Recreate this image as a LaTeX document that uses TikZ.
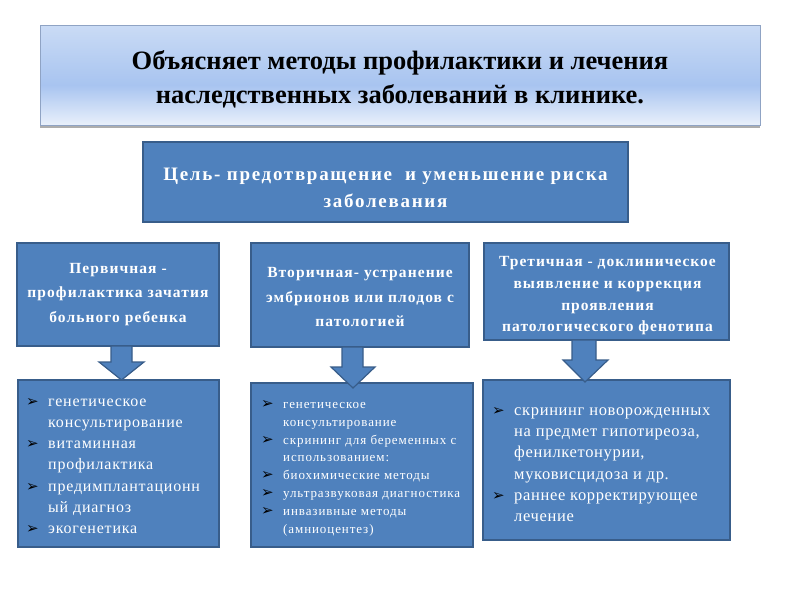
\documentclass[tikz,border=0pt]{standalone}
\usepackage{fontspec}
\setmainfont{Liberation Serif}
\newfontfamily\bul{DejaVu Sans}
\usetikzlibrary{shadows}
\definecolor{boxfill}{HTML}{4F81BD}
\definecolor{boxline}{HTML}{385D8A}
\definecolor{ttop}{HTML}{CADBF5}
\definecolor{tmid}{HTML}{A8C4F0}
\definecolor{tbot}{HTML}{E9F0FB}
\definecolor{tline}{HTML}{8FA3C4}
\pgfdeclareverticalshading{titleshade}{100bp}{color(0bp)=(tbot); color(25bp)=(tbot); color(45bp)=(tmid); color(75bp)=(ttop); color(100bp)=(ttop)}
\newcommand{\bl}{\makebox[22pt][l]{\bul\fontsize{15}{10}\selectfont\color{black}➢}}
\newcommand{\ind}{\hspace*{22pt}}
\newcommand{\ls}[1]{\addfontfeatures{LetterSpace=#1}}
\begin{document}
\begin{tikzpicture}[x=1pt,y=-1pt,
  titlebox/.style={shading=titleshade, draw=tline, line width=0.8pt,
    drop shadow={shadow xshift=0pt, shadow yshift=-3pt, fill=gray!80, opacity=0.8}},
  bluebox/.style={fill=boxfill, draw=boxline, line width=1.5pt},
  txt/.style={inner sep=0pt, text=white},
  lvltxt/.style={txt, align=center, font=\bfseries\fontsize{15.5}{24.5}\selectfont\ls{7}},
  downarrow/.style={fill=boxfill, draw=boxline, line width=1.2pt, line join=miter}]
\fill[white] (0,0) rectangle (800,600);
\useasboundingbox (0,0) rectangle (800,600);

\node[titlebox, minimum width=720, minimum height=100] (title) at (400,75) {};
\node[inner sep=0pt, align=center, text=black, font=\bfseries\fontsize{26.5}{34}\selectfont] (titletext) at (400,79)
  {Объясняет методы профилактики и лечения\\наследственных заболеваний в клинике.};

\node[bluebox, minimum width=485, minimum height=80] (goal) at (385.5,182) {};
\node[txt, align=center, font=\bfseries\fontsize{19}{27}\selectfont\ls{9}] (goaltext) at (385.5,188)
  {Цель- предотвращение\ \ и уменьшение риска\\заболевания};

\node[bluebox, minimum width=202, minimum height=103] (l1) at (118,294.5) {};
\node[lvltxt] (l1text) at (118,294.5) {Первичная -\\профилактика зачатия\\больного ребенка};
\node[bluebox, minimum width=218, minimum height=104] (l2) at (360,295) {};
\node[lvltxt] (l2text) at (360,297) {Вторичная- устранение\\эмбрионов или плодов с\\патологией};
\node[bluebox, minimum width=245, minimum height=97] (l3) at (606.5,291.5) {};
\node[lvltxt, font=\bfseries\fontsize{15.5}{21.7}\selectfont\ls{6.5}] (l3text) at (607.5,296)
  {Третичная - доклиническое\\выявление и коррекция\\проявления\\патологического фенотипа};

\node[bluebox, minimum width=201, minimum height=167] (b1) at (118.5,463.5) {};
\node[bluebox, minimum width=222, minimum height=164] (b2) at (362,465) {};
\node[bluebox, minimum width=247, minimum height=160] (b3) at (606.5,460) {};

\node[txt, anchor=north west, align=left, font=\fontsize{16}{21.2}\selectfont\ls{5}] (t1) at (26,398)
  {\bl генетическое\\ \ind консультирование\\ \bl витаминная\\ \ind профилактика\\
   \bl предимплантационн\\ \ind ый диагноз\\ \bl экогенетика};
\node[txt, anchor=north west, align=left, font=\fontsize{13}{17.9}\selectfont\ls{7}] (t2) at (261,400)
  {\bl генетическое\\ \ind консультирование\\ \bl скрининг для беременных с\\ \ind использованием:\\
   \bl биохимические методы\\ \bl ультразвуковая диагностика\\ \bl инвазивные методы\\ \ind (амниоцентез)};
\node[txt, anchor=north west, align=left, font=\fontsize{16.5}{21.3}\selectfont\ls{4}] (t3) at (492,407)
  {\bl скрининг новорожденных\\ \ind на предмет гипотиреоза,\\ \ind фенилкетонурии,\\ \ind муковисцидоза и др.\\
   \bl раннее корректирующее\\ \ind лечение};

% block arrows
\draw[downarrow] (111,346) -- (132,346) -- (132,362) -- (144,362) -- (121.5,380)
  -- (99,362) -- (111,362) -- cycle;
\draw[downarrow] (342,347) -- (363,347) -- (363,367) -- (375,367) -- (353,388)
  -- (331,367) -- (342,367) -- cycle;
\draw[downarrow] (572,340) -- (596,340) -- (596,360) -- (608,360) -- (585,382)
  -- (563,360) -- (572,360) -- cycle;
\end{tikzpicture}
\end{document}
